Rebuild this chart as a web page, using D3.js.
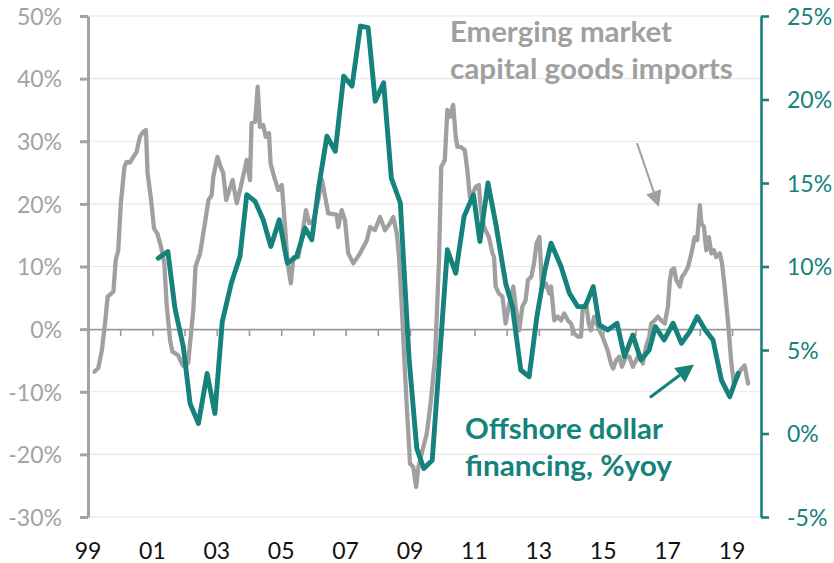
<!DOCTYPE html>
<html>
<head>
<meta charset="utf-8">
<script src="https://cdn.jsdelivr.net/npm/d3@7"></script>
<style>
  body { margin: 0; background: #fff; }
  svg { display: block; font-family: Lato, "Open Sans", sans-serif; }
</style>
</head>
<body>
<svg id="chart" width="834" height="563"></svg>
<script>
// EM capital goods imports, %yoy (left axis)
const importDates = [
  1999.20, 1999.32, 1999.43, 1999.53, 1999.61, 1999.79, 1999.86, 1999.94, 2000.02, 2000.13,
  2000.20, 2000.30, 2000.41, 2000.51, 2000.61, 2000.72, 2000.80, 2000.85, 2000.96, 2001.05,
  2001.16, 2001.27, 2001.37, 2001.44, 2001.55, 2001.62, 2001.80, 2001.94, 2002.01, 2002.11,
  2002.17, 2002.27, 2002.34, 2002.48, 2002.63, 2002.74, 2002.84, 2002.89, 2003.02, 2003.12,
  2003.20, 2003.29, 2003.39, 2003.49, 2003.62, 2003.72, 2003.84, 2003.93, 2004.03, 2004.08,
  2004.19, 2004.27, 2004.34, 2004.44, 2004.52, 2004.62, 2004.67, 2004.78, 2004.91, 2005.02,
  2005.12, 2005.20, 2005.30, 2005.38, 2005.53, 2005.64, 2005.77, 2005.87, 2006.00, 2006.15,
  2006.27, 2006.46, 2006.72, 2006.77, 2006.88, 2006.98, 2007.08, 2007.24, 2007.45, 2007.66,
  2007.76, 2007.91, 2008.07, 2008.22, 2008.38, 2008.48, 2008.59, 2008.66, 2008.75, 2008.85,
  2009.00, 2009.10, 2009.19, 2009.26, 2009.39, 2009.52, 2009.64, 2009.78, 2009.90, 2009.97,
  2010.08, 2010.16, 2010.24, 2010.34, 2010.42, 2010.47, 2010.57, 2010.70, 2010.78, 2010.86,
  2010.93, 2011.04, 2011.14, 2011.20, 2011.30, 2011.45, 2011.56, 2011.61, 2011.66, 2011.76,
  2011.87, 2011.97, 2012.04, 2012.11, 2012.21, 2012.28, 2012.39, 2012.49, 2012.59, 2012.66,
  2012.77, 2012.85, 2012.93, 2013.02, 2013.10, 2013.22, 2013.33, 2013.38, 2013.48, 2013.59,
  2013.69, 2013.79, 2013.90, 2014.00, 2014.10, 2014.21, 2014.31, 2014.36, 2014.47, 2014.55,
  2014.62, 2014.72, 2014.88, 2014.98, 2015.14, 2015.24, 2015.31, 2015.40, 2015.50, 2015.58,
  2015.71, 2015.81, 2015.92, 2016.02, 2016.12, 2016.23, 2016.33, 2016.43, 2016.49, 2016.60,
  2016.70, 2016.80, 2016.91, 2017.01, 2017.07, 2017.12, 2017.20, 2017.27, 2017.38, 2017.45,
  2017.53, 2017.63, 2017.74, 2017.84, 2017.92, 2018.00, 2018.05, 2018.13, 2018.20, 2018.28,
  2018.36, 2018.44, 2018.51, 2018.62, 2018.69, 2018.77, 2018.88, 2018.98, 2019.06, 2019.17,
  2019.27, 2019.39, 2019.50
];
const importValues = [
  -6.8, -6.2, -3.4, 1.0, 5.2, 6.0, 11.0, 12.6, 20.1, 25.9,
  26.7, 26.6, 27.5, 28.3, 30.7, 31.5, 31.8, 24.9, 20.6, 16.1,
  15.2, 13.1, 10.5, 4.1, -1.8, -3.6, -4.2, -5.8, -6.0, -5.4,
  -2.2, 3.0, 10.0, 12.1, 16.9, 20.6, 21.4, 24.3, 27.5, 25.9,
  24.9, 20.6, 22.2, 23.8, 20.1, 22.2, 24.9, 27.0, 23.8, 32.9,
  33.1, 38.7, 32.3, 32.6, 30.7, 31.3, 26.5, 24.3, 22.2, 23.0,
  16.3, 10.5, 7.3, 11.5, 11.5, 14.7, 19.0, 16.9, 17.4, 20.6,
  23.8, 18.5, 18.3, 16.3, 19.0, 17.4, 12.1, 10.5, 12.1, 14.2,
  16.3, 15.8, 17.9, 15.8, 16.9, 17.9, 15.3, 11.5, 3.0, -7.6,
  -21.5, -22.0, -25.2, -22.0, -19.3, -16.7, -11.9, -4.4, 11.0, 25.9,
  27.0, 35.0, 33.9, 35.8, 30.7, 29.1, 29.1, 28.6, 25.4, 21.1,
  21.4, 22.7, 23.0, 19.0, 16.3, 14.7, 12.1, 11.5, 6.8, 5.7,
  5.2, 0.9, 3.0, 4.6, 6.8, 3.6, -0.2, 3.6, 4.6, 7.8,
  8.4, 10.5, 13.7, 14.7, 6.5, 7.3, 5.7, 6.8, 1.4, 2.0,
  1.4, 2.5, 1.4, 0.9, -0.7, -1.2, -1.2, 3.0, 4.1, 0.9,
  -0.2, 2.0, -0.2, -1.2, -3.4, -5.5, -6.3, -5.0, -4.4, -6.0,
  -4.4, -4.4, -6.0, -5.0, -3.9, -5.5, -2.8, -1.2, 0.9, 1.4,
  2.0, 1.4, 0.9, 3.6, 7.8, 9.4, 9.7, 7.8, 6.8, 8.4,
  8.9, 9.9, 12.1, 14.7, 14.2, 19.8, 16.9, 16.3, 12.6, 14.7,
  12.1, 12.6, 11.5, 12.1, 10.5, 6.8, 0.9, -5.5, -8.7, -7.6,
  -6.5, -5.8, -8.7
];

// Offshore dollar financing, %yoy (right axis), quarterly
const financingDates = [
  2001.18, 2001.48, 2001.70, 2001.96, 2002.17, 2002.43, 2002.70, 2002.94, 2003.17, 2003.45,
  2003.72, 2003.93, 2004.19, 2004.44, 2004.68, 2004.94, 2005.19, 2005.48, 2005.74, 2005.95,
  2006.16, 2006.42, 2006.68, 2006.94, 2007.20, 2007.46, 2007.70, 2007.92, 2008.18, 2008.42,
  2008.70, 2008.97, 2009.21, 2009.43, 2009.69, 2010.16, 2010.42, 2010.68, 2010.97, 2011.17,
  2011.42, 2011.66, 2011.97, 2012.18, 2012.44, 2012.70, 2012.94, 2013.19, 2013.38, 2013.69,
  2013.95, 2014.21, 2014.44, 2014.69, 2014.88, 2015.14, 2015.43, 2015.66, 2015.92, 2016.17,
  2016.43, 2016.62, 2016.89, 2017.17, 2017.43, 2017.69, 2017.92, 2018.17, 2018.41, 2018.67,
  2018.93, 2019.19
];
const financingValues = [
  10.5, 10.9, 7.5, 5.2, 1.8, 0.6, 3.6, 1.2, 6.7, 9.0,
  10.6, 14.3, 13.9, 12.8, 11.2, 12.8, 10.2, 10.6, 12.3, 11.6,
  14.7, 17.8, 16.9, 21.4, 20.8, 24.4, 24.3, 19.9, 21.0, 15.3,
  13.8, 4.5, -0.9, -2.1, -1.6, 11.0, 9.6, 13.0, 14.3, 11.5,
  15.0, 12.6, 9.0, 7.6, 3.8, 3.4, 7.0, 9.8, 11.4, 10.0,
  8.4, 7.6, 7.6, 8.8, 6.5, 6.2, 6.6, 4.6, 5.9, 4.4,
  5.0, 6.4, 5.6, 6.6, 5.4, 6.1, 7.0, 6.2, 5.6, 3.2,
  2.2, 3.6
];

const leftTicks = [-30, -20, -10, 0, 10, 20, 30, 40, 50];
const rightTicks = [-5, 0, 5, 10, 15, 20, 25];
const yearTicks = d3.range(2000, 2020);
const labelYears = [1999, 2001, 2003, 2005, 2007, 2009, 2011, 2013, 2015, 2017, 2019];
const labelText = ['99', '01', '03', '05', '07', '09', '11', '13', '15', '17', '19'];

const grey = '#a0a0a0';
const teal = '#15827b';

const svg = d3.select('#chart');
const x = d3.scaleLinear().domain([1999, 2019.9]).range([88, 761]);
const yL = d3.scaleLinear().domain([-30, 50]).range([517, 16]);
const yR = d3.scaleLinear().domain([-5, 25]).range([517, 16]);

// gridlines
svg.append('g').selectAll('line')
  .data(leftTicks.filter(d => d !== 0))
  .enter().append('line')
  .attr('x1', x(1999)).attr('x2', x(2019.9))
  .attr('y1', d => yL(d)).attr('y2', d => yL(d))
  .attr('stroke', '#e6e6e6').attr('stroke-width', 1.2);

// zero line with yearly ticks
const xAxis = svg.append('g')
  .attr('transform', 'translate(0,' + yL(0) + ')')
  .call(d3.axisBottom(x).tickValues(yearTicks).tickSize(7).tickSizeOuter(0).tickFormat(''));
xAxis.select('.domain').attr('stroke', '#9a9a9a').attr('stroke-width', 1.6);
xAxis.selectAll('.tick line').attr('stroke', '#9a9a9a').attr('stroke-width', 1.6);

// year labels
svg.append('g').selectAll('text')
  .data(labelYears)
  .enter().append('text')
  .attr('x', d => x(d))
  .attr('y', 559)
  .attr('text-anchor', 'middle')
  .attr('font-size', 23)
  .attr('fill', '#111')
  .text((d, i) => labelText[i]);

// left axis
const left = svg.append('g')
  .attr('transform', 'translate(' + x(1999) + ',0)')
  .call(d3.axisLeft(yL).tickValues(leftTicks).tickSize(8).tickSizeOuter(0)
    .tickFormat(d => d + '%'));
left.select('.domain').attr('stroke', '#a3a3a3').attr('stroke-width', 3);
left.selectAll('.tick line').attr('stroke', '#a3a3a3').attr('stroke-width', 3);
left.selectAll('.tick text')
  .attr('x', -26).attr('dy', '0.36em')
  .attr('font-size', 23).attr('font-family', 'Lato, sans-serif').attr('fill', '#a3a3a3');

// right axis
const right = svg.append('g')
  .attr('transform', 'translate(' + x(2019.9) + ',0)')
  .call(d3.axisRight(yR).tickValues(rightTicks).tickSize(8).tickSizeOuter(0)
    .tickFormat(d => d + '%'));
right.select('.domain').attr('stroke', teal).attr('stroke-width', 2.6);
right.selectAll('.tick line').attr('stroke', teal).attr('stroke-width', 2.6);
right.selectAll('.tick text')
  .attr('x', 26).attr('dy', '0.36em')
  .attr('font-size', 23).attr('font-family', 'Lato, sans-serif').attr('fill', teal);

// series
const importLine = d3.line()
  .x((d, i) => x(importDates[i]))
  .y(d => yL(d));
svg.append('path')
  .attr('d', importLine(importValues))
  .attr('fill', 'none').attr('stroke', grey).attr('stroke-width', 4.3)
  .attr('stroke-linejoin', 'round').attr('stroke-linecap', 'round');

const financingLine = d3.line()
  .x((d, i) => x(financingDates[i]))
  .y(d => yR(d));
svg.append('path')
  .attr('d', financingLine(financingValues))
  .attr('fill', 'none').attr('stroke', teal).attr('stroke-width', 4.9)
  .attr('stroke-linejoin', 'round').attr('stroke-linecap', 'round');

// annotations
function label(lines, px, py, color, widths) {
  lines.forEach((t, i) => {
    svg.append('text')
      .attr('x', x(px)).attr('y', yL(py) + i * 37)
      .attr('font-size', 29).attr('font-weight', 700)
      .attr('fill', color)
      .attr('textLength', widths[i]).attr('lengthAdjust', 'spacingAndGlyphs')
      .text(t);
  });
}
label(['Emerging market', 'capital goods imports'], 2010.24, 45.8, grey, [222, 283]);
label(['Offshore dollar', 'financing, %yoy'], 2010.71, -17.6, teal, [198, 207]);

function arrow(x1, y1, x2, y2, color, w, head) {
  const a = Math.atan2(y2 - y1, x2 - x1);
  const bx = x2 - head * Math.cos(a), by = y2 - head * Math.sin(a);
  svg.append('line')
    .attr('x1', x1).attr('y1', y1).attr('x2', bx).attr('y2', by)
    .attr('stroke', color).attr('stroke-width', w);
  const hw = head * 0.5;
  const pts = [
    [x2, y2],
    [bx + hw * Math.sin(a), by - hw * Math.cos(a)],
    [bx - hw * Math.sin(a), by + hw * Math.cos(a)]
  ];
  svg.append('polygon').attr('points', pts.map(p => p.join(',')).join(' ')).attr('fill', color);
}
arrow(x(2016.05), yL(29.7), x(2016.73), yL(19.5), grey, 2, 16);
arrow(x(2016.45), yR(2.16), x(2017.82), yR(4.13), teal, 3, 18);
</script>
</body>
</html>
